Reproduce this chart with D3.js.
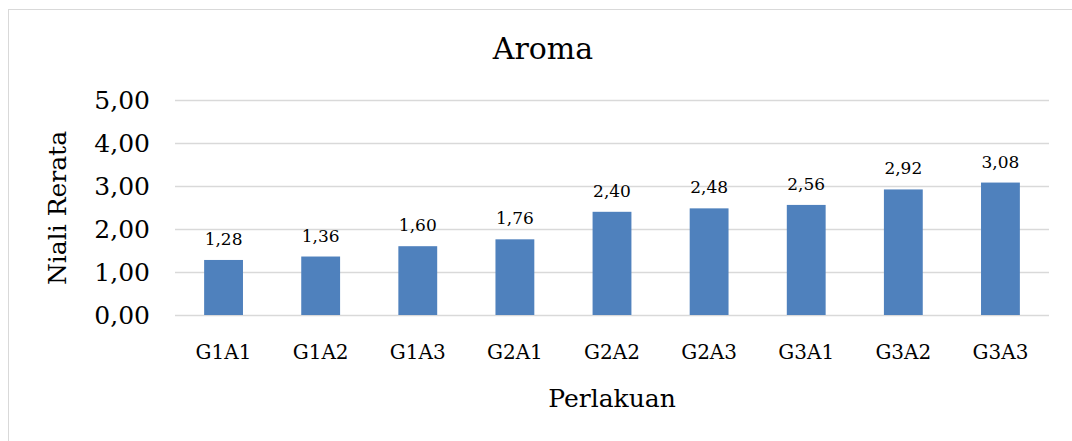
<!DOCTYPE html>
<html><head><meta charset="utf-8">
<script src="https://cdn.jsdelivr.net/npm/d3@7/dist/d3.min.js"></script>
<style>html,body{margin:0;padding:0;background:#fff;overflow:hidden}svg{display:block}text{font-family:"DejaVu Serif",serif;fill:#000}</style>
</head><body><svg id="c" width="1072" height="441"></svg>
<script>
const categories = ["G1A1","G1A2","G1A3","G2A1","G2A2","G2A3","G3A1","G3A2","G3A3"];
const values = [1.28,1.36,1.60,1.76,2.40,2.48,2.56,2.92,3.08];
const yTicks = [0,1,2,3,4,5];
const title = "Aroma";
const yTitle = "Niali Rerata";
const xTitle = "Perlakuan";

const svg = d3.select("#c");
svg.append("rect").attr("x",8.5).attr("y",9.5).attr("width",1080).attr("height",440)
  .attr("fill","#fff").attr("stroke","#d9d9d9").attr("stroke-width",1);

const pLeft = 175, pRight = 1049, pTop = 100, pBottom = 315;
const x = d3.scaleBand().domain(categories).range([pLeft,pRight]).paddingInner(0.6).paddingOuter(0.3);
const y = d3.scaleLinear().domain([0,5]).range([pBottom,pTop]);
const fmt = v => d3.format(".2f")(v).replace(".",",");

const yAxis = d3.axisLeft(y).tickValues(yTicks).tickSize(-(pRight-pLeft)).tickFormat(fmt).tickPadding(25);
const gy = svg.append("g").attr("transform",`translate(${pLeft},0)`).call(yAxis);
gy.select(".domain").remove();
gy.selectAll(".tick line").attr("stroke","#d9d9d9").attr("stroke-width",1.3);
gy.selectAll(".tick text").attr("font-size",25).attr("font-family","DejaVu Serif").attr("fill","#000");

const xAxis = d3.axisBottom(x).tickSize(0).tickPadding(30);
const gx = svg.append("g").attr("transform",`translate(0,${pBottom})`).call(xAxis);
gx.select(".domain").remove();
gx.selectAll(".tick text").attr("font-size",20).attr("font-family","DejaVu Serif").attr("fill","#000");

svg.append("g").selectAll("rect").data(values).join("rect")
  .attr("x",(d,i)=>x(categories[i])).attr("width",x.bandwidth())
  .attr("y",d=>y(d)).attr("height",d=>pBottom-y(d)).attr("fill","#4f81bd");

svg.append("g").selectAll("text").data(values).join("text")
  .attr("x",(d,i)=>x(categories[i])+x.bandwidth()/2).attr("y",d=>y(d)-15)
  .attr("text-anchor","middle").attr("font-size",17).text(fmt);

svg.append("text").attr("x",543).attr("y",59).attr("text-anchor","middle").attr("font-size",30).text(title);
svg.append("text").attr("x",612).attr("y",407).attr("text-anchor","middle").attr("font-size",25).text(xTitle);
svg.append("text").attr("transform","translate(66,208) rotate(-90)").attr("text-anchor","middle").attr("font-size",25).text(yTitle);
</script></body></html>
